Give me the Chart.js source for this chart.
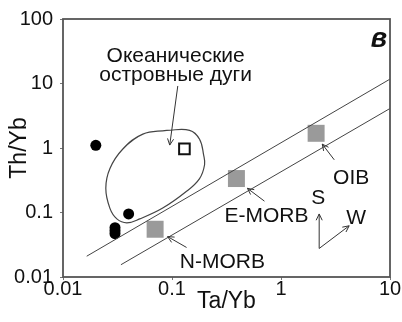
<!DOCTYPE html>
<html>
<head>
<meta charset="utf-8">
<script src="https://cdn.jsdelivr.net/npm/chart.js@4"></script>
<style>
  html, body { margin: 0; padding: 0; background: #fff; }
  #wrap { width: 402px; height: 322px; }
</style>
</head>
<body>
<div id="wrap"><canvas id="chart" width="402" height="322"></canvas></div>
<script>
// tick labels
const xTicks = [0.01, 0.1, 1, 10];
const yTicks = [0.01, 0.1, 1, 10, 100];

// samples (black circles)
const sampleX = [0.02, 0.04, 0.03, 0.03, 0.03];
const sampleY = [1.1, 0.095, 0.058, 0.052, 0.047];

// open square
const openX = [0.13];
const openY = [0.97];

// reference compositions (grey squares)
const refNames = ['N-MORB', 'E-MORB', 'OIB'];
const refX = [0.07, 0.39, 2.1];
const refY = [0.055, 0.336, 1.69];

// oceanic island arc field outline
const fieldX = [0.0893, 0.145, 0.179, 0.195, 0.199, 0.179, 0.136, 0.0822, 0.0506, 0.0385, 0.0312, 0.0269, 0.0247, 0.0269, 0.0354, 0.054, 0.0893];
const fieldY = [1.88, 1.88, 1.37, 0.78, 0.55, 0.336, 0.213, 0.117, 0.0796, 0.0691, 0.0796, 0.117, 0.237, 0.478, 0.965, 1.64, 1.88];

// MORB-OIB array boundaries
const upperX = [0.0165, 10];
const upperY = [0.021, 11.7];
const lowerX = [0.034, 10];
const lowerY = [0.0155, 4.1];

// arrows: from -> to (data units)
const arrowFromX = [0.113, 3.08, 0.705, 0.136, 2.24, 2.24];
const arrowFromY = [9.16, 0.656, 0.15, 0.0287, 0.0277, 0.0277];
const arrowToX = [0.0953, 2.39, 0.492, 0.0912, 2.24, 4.22];
const arrowToY = [1.11, 1.15, 0.237, 0.0423, 0.0949, 0.0622];

// text labels
const labelText = ['Океанические', 'островные дуги', 'OIB', 'E-MORB', 'N-MORB', 'S', 'W'];
const labelX = [0.108, 0.108, 4.4, 0.735, 0.29, 2.2, 4.89];
const labelY = [26.3, 13.5, 0.336, 0.0885, 0.017, 0.166, 0.0824];
const panelLetter = 'в';
const panelX = 7.9;
const panelY = 48;

const FONT = '"Liberation Sans", Arial, sans-serif';

function pts(xs, ys) {
    return xs.map((x, i) => ({ x: x, y: ys[i] }));
}

// frame around plot area
const framePlugin = {
    id: 'frame',
    afterDatasetsDraw(chart) {
        const a = chart.chartArea;
        const ctx = chart.ctx;
        ctx.save();
        ctx.strokeStyle = '#555';
        ctx.lineWidth = 1.8;
        ctx.strokeRect(a.left, a.top, a.right - a.left, a.bottom - a.top);
        ctx.restore();
    }
};

// arrows and labels
const notesPlugin = {
    id: 'notes',
    afterDatasetsDraw(chart) {
        const ctx = chart.ctx;
        const xs = chart.scales.x, ys = chart.scales.y;
        ctx.save();
        ctx.strokeStyle = '#333';
        ctx.lineWidth = 1;
        for (let i = 0; i < arrowFromX.length; i++) {
            const x1 = xs.getPixelForValue(arrowFromX[i]), y1 = ys.getPixelForValue(arrowFromY[i]);
            const x2 = xs.getPixelForValue(arrowToX[i]), y2 = ys.getPixelForValue(arrowToY[i]);
            const ang = Math.atan2(y2 - y1, x2 - x1);
            ctx.beginPath();
            ctx.moveTo(x1, y1);
            ctx.lineTo(x2, y2);
            ctx.moveTo(x2 - 7 * Math.cos(ang - 0.45), y2 - 7 * Math.sin(ang - 0.45));
            ctx.lineTo(x2, y2);
            ctx.lineTo(x2 - 7 * Math.cos(ang + 0.45), y2 - 7 * Math.sin(ang + 0.45));
            ctx.stroke();
        }
        ctx.fillStyle = '#111';
        ctx.textAlign = 'center';
        ctx.textBaseline = 'middle';
        ctx.font = '21px ' + FONT;
        for (let i = 0; i < labelText.length; i++) {
            ctx.fillText(labelText[i], xs.getPixelForValue(labelX[i]), ys.getPixelForValue(labelY[i]));
        }
        ctx.font = 'italic bold 27px ' + FONT;
        ctx.fillText(panelLetter, xs.getPixelForValue(panelX), ys.getPixelForValue(panelY));
        ctx.restore();
    }
};

new Chart(document.getElementById('chart'), {
    type: 'scatter',
    data: {
        datasets: [
            {
                label: 'field',
                data: pts(fieldX, fieldY),
                showLine: true,
                tension: 0.4,
                borderColor: '#444',
                borderWidth: 1.2,
                pointRadius: 0,
                fill: false
            },
            {
                label: 'upper',
                data: pts(upperX, upperY),
                showLine: true,
                borderColor: '#444',
                borderWidth: 1,
                pointRadius: 0
            },
            {
                label: 'lower',
                data: pts(lowerX, lowerY),
                showLine: true,
                borderColor: '#444',
                borderWidth: 1,
                pointRadius: 0
            },
            {
                label: 'reference',
                data: pts(refX, refY),
                pointStyle: 'rect',
                pointRadius: 12,
                backgroundColor: '#9a9a9a',
                borderColor: '#9a9a9a',
                borderWidth: 0
            },
            {
                label: 'samples',
                data: pts(sampleX, sampleY),
                pointRadius: 5.5,
                backgroundColor: '#000',
                borderColor: '#000',
                borderWidth: 0
            },
            {
                label: 'open',
                data: pts(openX, openY),
                pointStyle: 'rect',
                pointRadius: 7.5,
                backgroundColor: '#fff',
                borderColor: '#111',
                borderWidth: 2
            }
        ]
    },
    options: {
        responsive: false,
        animation: false,
        events: [],
        layout: { padding: { top: 15, right: 11, left: 0, bottom: 0 } },
        plugins: {
            legend: { display: false },
            tooltip: { enabled: false }
        },
        scales: {
            x: {
                type: 'logarithmic',
                min: 0.01,
                max: 10,
                afterBuildTicks: s => { s.ticks = xTicks.map(v => ({ value: v })); },
                afterFit: s => { s.height = 45; },
                ticks: {
                    callback: v => String(v),
                    color: '#111',
                    font: { family: FONT, size: 20, lineHeight: 1 },
                    padding: -1,
                    maxRotation: 0,
                    autoSkip: false
                },
                grid: { drawOnChartArea: false, drawTicks: true, tickLength: 3, color: '#777' },
                border: { display: false },
                title: {
                    display: true,
                    text: 'Ta/Yb',
                    color: '#111',
                    font: { family: FONT, size: 23 },
                    padding: { top: 0, bottom: 7 }
                }
            },
            y: {
                type: 'logarithmic',
                min: 0.01,
                max: 100,
                afterBuildTicks: s => { s.ticks = yTicks.map(v => ({ value: v })); },
                afterFit: s => { s.width = 63; },
                ticks: {
                    callback: v => String(v),
                    color: '#111',
                    font: { family: FONT, size: 20 },
                    padding: 7,
                    autoSkip: false
                },
                grid: { drawOnChartArea: false, drawTicks: true, tickLength: 3, color: '#777' },
                border: { display: false },
                title: {
                    display: true,
                    text: 'Th/Yb',
                    color: '#111',
                    font: { family: FONT, size: 23 },
                    padding: { top: 6, bottom: 0 }
                }
            }
        }
    },
    plugins: [framePlugin, notesPlugin]
});
</script>
</body>
</html>
